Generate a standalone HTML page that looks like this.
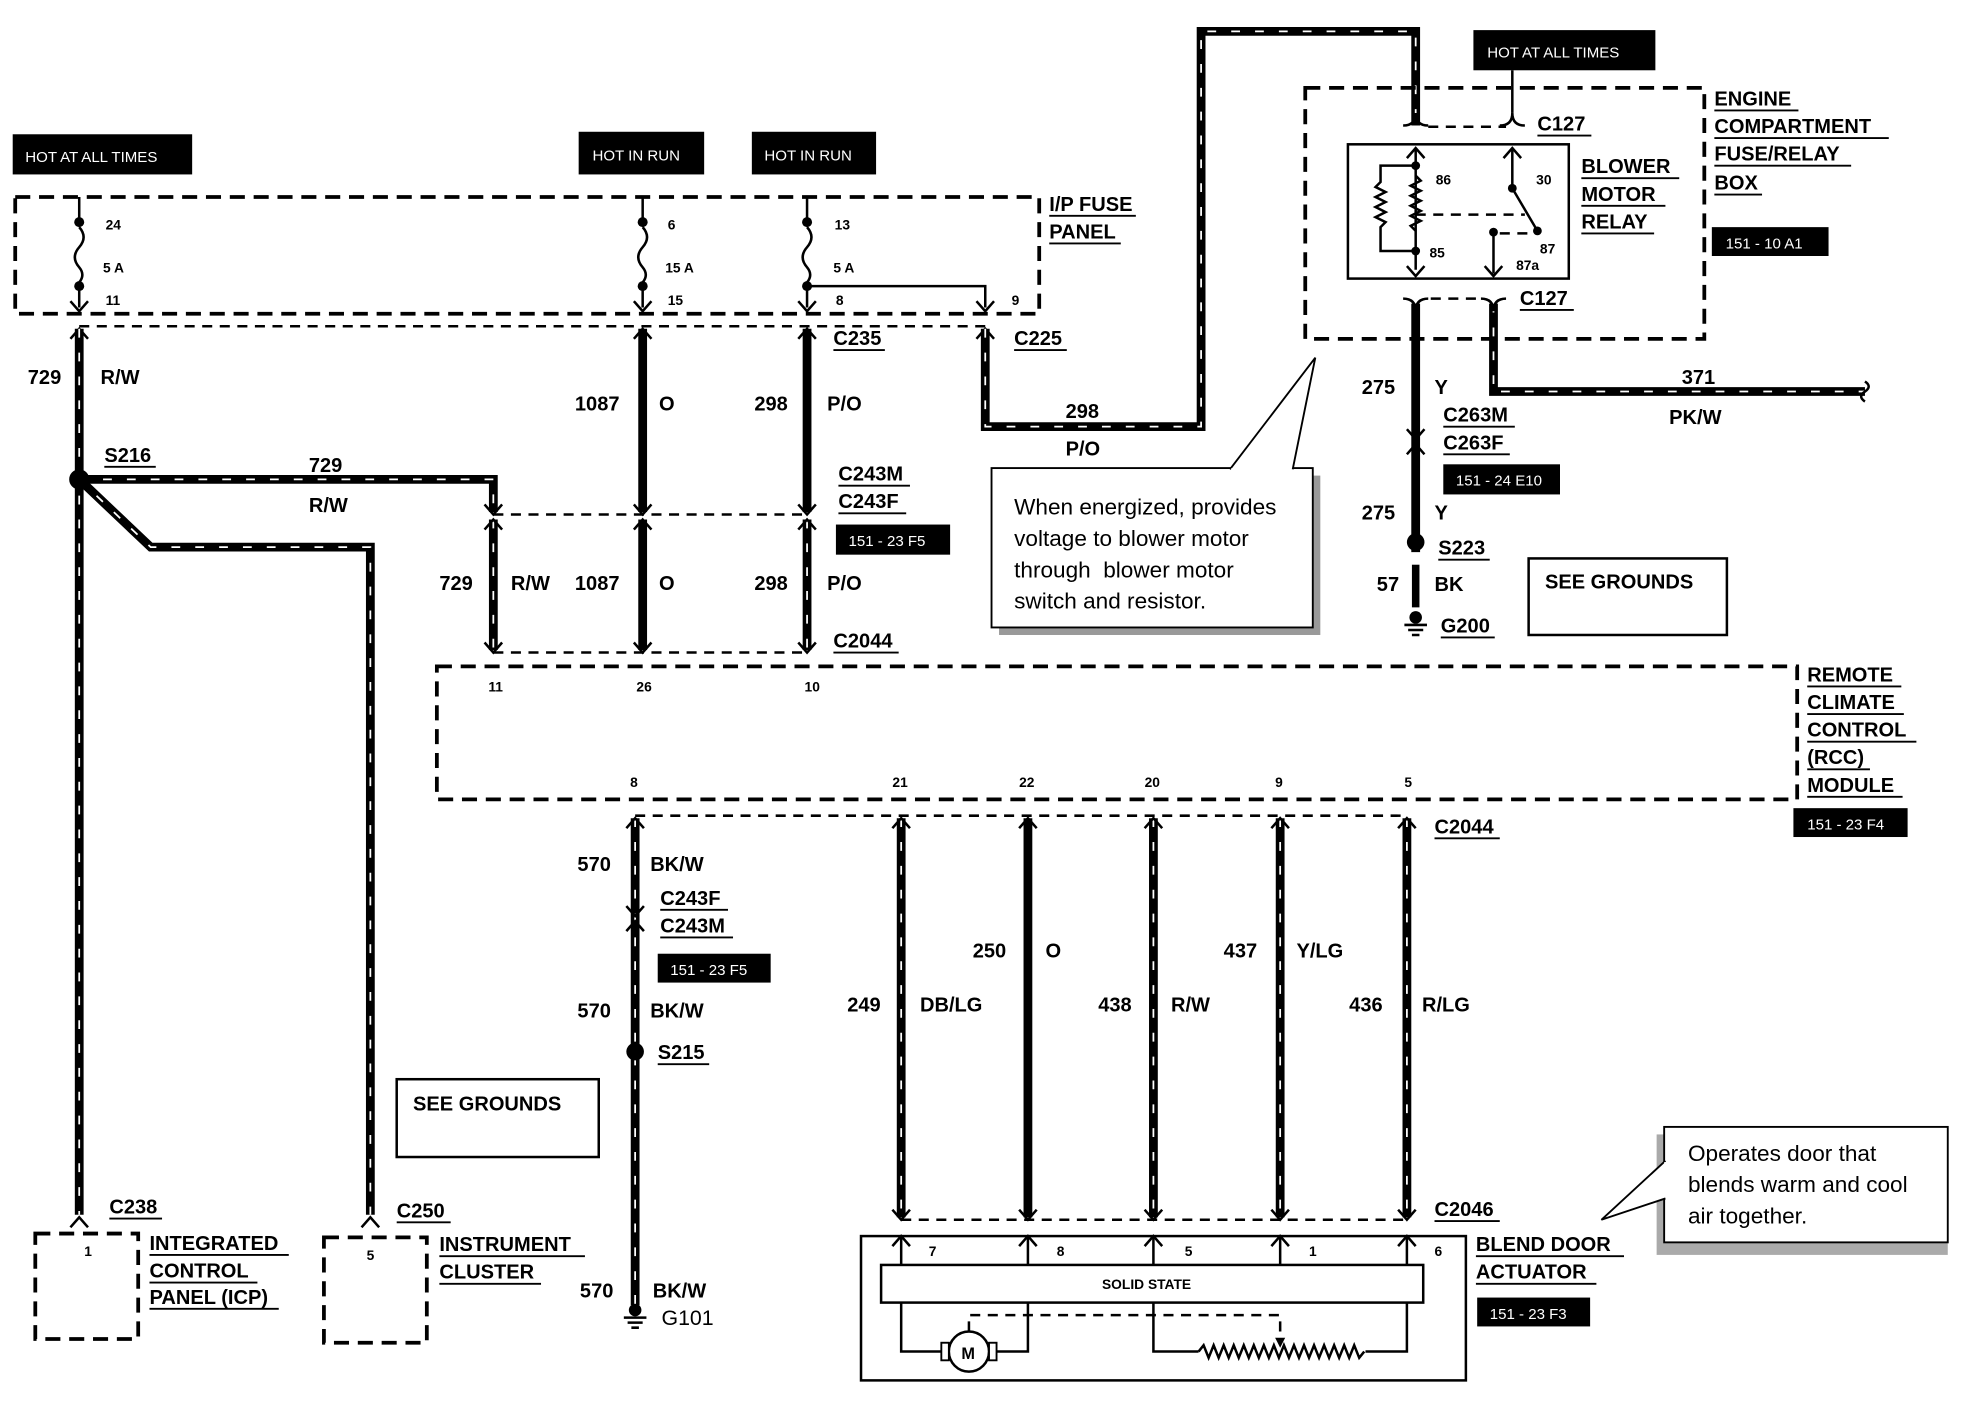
<!DOCTYPE html>
<html><head><meta charset="utf-8"><style>
html,body{margin:0;padding:0;background:#fff}
svg{display:block}
text{font-family:"Liberation Sans",Arial,sans-serif;font-weight:bold;fill:#000}
.l{font-size:16px}
.s{font-size:11px}
.b{font-size:12px;fill:#fff;font-weight:normal}
.n{font-size:18px;font-weight:normal}
.w{fill:none;stroke:#000;stroke-width:7}
.wd{fill:none;stroke:#fff;stroke-width:1.4;stroke-dasharray:7 12}
.d{fill:none;stroke:#000;stroke-width:3;stroke-dasharray:12 7}
.t{fill:none;stroke:#000;stroke-width:2;stroke-dasharray:8 6}
.k{fill:none;stroke:#000;stroke-width:2}
.u{stroke:#000;stroke-width:1.5}
.wf{fill:#fff;stroke:#000;stroke-width:1.5}
</style></head><body>
<svg width="1968" height="1408" viewBox="0 0 1568 1122" xmlns="http://www.w3.org/2000/svg">
<defs>
<g id="ad"><path d="M-7,-8 L0,0 L7,-8" class="k" stroke-width="3"/></g>
<g id="au"><path d="M-7,8 L0,0 L7,8" class="k" stroke-width="3"/></g>
<path id="w1" d="M63,262 V968"/>
<path id="w2" d="M63,382 H393 V408"/>
<path id="w3" d="M63,382 L120,436 H295 V968"/>
<path id="w4" d="M512,262 V408"/>
<path id="w5" d="M643,262 V408"/>
<path id="w6" d="M785,262 V340 H957 V25 H1128 V100"/>
<path id="w7" d="M393,414 V518"/>
<path id="w8" d="M512,414 V518"/>
<path id="w9" d="M643,414 V518"/>
<path id="w10" d="M506,652 V1040"/>
<path id="w11" d="M718,652 V970"/>
<path id="w12" d="M819,652 V970"/>
<path id="w13" d="M919,652 V970"/>
<path id="w14" d="M1020,652 V970"/>
<path id="w15" d="M1121,652 V970"/>
<path id="w16" d="M1128,242 V440"/>
<path id="w17" d="M1190,242 V312 H1486"/>
</defs>

<!-- black label boxes -->
<rect x="10" y="107" width="143" height="32" fill="#000"/><text x="20" y="129" class="b">HOT AT ALL TIMES</text>
<rect x="461" y="105" width="100" height="34" fill="#000"/><text x="472" y="128" class="b">HOT IN RUN</text>
<rect x="599" y="105" width="99" height="34" fill="#000"/><text x="609" y="128" class="b">HOT IN RUN</text>
<rect x="1174" y="24" width="145" height="32" fill="#000"/><text x="1185" y="46" class="b">HOT AT ALL TIMES</text>

<!-- I/P fuse panel -->
<rect x="12" y="157" width="816" height="93" class="d"/>
<text x="836" y="168" class="l">I/P FUSE</text><line x1="836" y1="172" x2="905" y2="172" class="u"/>
<text x="836" y="190" class="l">PANEL</text><line x1="836" y1="194" x2="893" y2="194" class="u"/>
<path d="M63,157 V175 M63,230 V245" class="k" stroke-width="2.5"/><circle cx="63" cy="177" r="4"/><circle cx="63" cy="228" r="4"/><path d="M63,181 q7,8 0,16 q-7,8 0,16 q5,6 0,12" class="k" stroke-width="2.5"/>
<path d="M512,157 V175 M512,230 V245" class="k" stroke-width="2.5"/><circle cx="512" cy="177" r="4"/><circle cx="512" cy="228" r="4"/><path d="M512,181 q7,8 0,16 q-7,8 0,16 q5,6 0,12" class="k" stroke-width="2.5"/>
<path d="M643,157 V175 M643,230 V245" class="k" stroke-width="2.5"/><circle cx="643" cy="177" r="4"/><circle cx="643" cy="228" r="4"/><path d="M643,181 q7,8 0,16 q-7,8 0,16 q5,6 0,12" class="k" stroke-width="2.5"/>
<use href="#ad" x="63" y="248"/><use href="#ad" x="512" y="248"/><use href="#ad" x="643" y="248"/>
<path d="M643,228 H785 V245" class="k"/><use href="#ad" x="785" y="248"/>
<text x="84" y="183" class="s">24</text><text x="82" y="217" class="s">5 A</text><text x="84" y="243" class="s">11</text>
<text x="532" y="183" class="s">6</text><text x="530" y="217" class="s">15 A</text><text x="532" y="243" class="s">15</text>
<text x="665" y="183" class="s">13</text><text x="664" y="217" class="s">5 A</text><text x="666" y="243" class="s">8</text>
<text x="806" y="243" class="s">9</text>
<line x1="63" y1="260" x2="785" y2="260" class="t"/>
<use href="#au" x="63" y="262"/><use href="#au" x="512" y="262"/><use href="#au" x="643" y="262"/><use href="#au" x="785" y="262"/>

<!-- wires -->
<g class="w"><use href="#w1"/><use href="#w2"/><use href="#w3"/><use href="#w4"/><use href="#w5"/><use href="#w6"/><use href="#w7"/><use href="#w8"/><use href="#w9"/><use href="#w10"/><use href="#w11"/><use href="#w12"/><use href="#w13"/><use href="#w14"/><use href="#w15"/><use href="#w16"/><use href="#w17"/></g>
<g class="wd"><use href="#w1"/><use href="#w2"/><use href="#w3"/><use href="#w6"/><use href="#w7"/><use href="#w9"/><use href="#w10"/><use href="#w11"/><use href="#w13"/><use href="#w14"/><use href="#w15"/><use href="#w17"/></g>
<path d="M1486,304 q6,4 0,8 q-6,4 0,8" class="k" stroke-width="2.5"/>
<circle cx="63" cy="382" r="8"/>

<!-- wire labels -->
<text x="22" y="306" class="l">729</text><text x="80" y="306" class="l">R/W</text>
<text x="83" y="368" class="l">S216</text><line x1="83" y1="372" x2="124" y2="372" class="u"/>
<text x="246" y="376" class="l">729</text><text x="246" y="408" class="l">R/W</text>
<text x="458" y="327" class="l">1087</text><text x="525" y="327" class="l">O</text>
<text x="601" y="327" class="l">298</text><text x="659" y="327" class="l">P/O</text>
<text x="664" y="275" class="l">C235</text><line x1="664" y1="279" x2="705" y2="279" class="u"/>
<text x="808" y="275" class="l">C225</text><line x1="808" y1="279" x2="850" y2="279" class="u"/>
<text x="849" y="333" class="l">298</text><text x="849" y="363" class="l">P/O</text>

<!-- C243 connector -->
<line x1="393" y1="410" x2="643" y2="410" class="t"/>
<use href="#ad" x="393" y="410"/><use href="#ad" x="512" y="410"/><use href="#ad" x="643" y="410"/>
<use href="#au" x="393" y="414"/><use href="#au" x="512" y="414"/><use href="#au" x="643" y="414"/>
<text x="668" y="383" class="l">C243M</text><line x1="668" y1="387" x2="725" y2="387" class="u"/>
<text x="668" y="405" class="l">C243F</text><line x1="668" y1="409" x2="722" y2="409" class="u"/>
<rect x="666" y="418" width="91" height="24" fill="#000"/><text x="676" y="435" class="b">151 - 23 F5</text>
<text x="350" y="470" class="l">729</text><text x="407" y="470" class="l">R/W</text>
<text x="458" y="470" class="l">1087</text><text x="525" y="470" class="l">O</text>
<text x="601" y="470" class="l">298</text><text x="659" y="470" class="l">P/O</text>
<line x1="393" y1="520" x2="643" y2="520" class="t"/>
<use href="#ad" x="393" y="520"/><use href="#ad" x="512" y="520"/><use href="#ad" x="643" y="520"/>
<text x="664" y="516" class="l">C2044</text><line x1="664" y1="520" x2="716" y2="520" class="u"/>

<!-- RCC module -->
<rect x="348" y="531" width="1084" height="106" class="d"/>
<text x="389" y="551" class="s">11</text><text x="507" y="551" class="s">26</text><text x="641" y="551" class="s">10</text>
<text x="502" y="627" class="s">8</text><text x="711" y="627" class="s">21</text><text x="812" y="627" class="s">22</text><text x="912" y="627" class="s">20</text><text x="1016" y="627" class="s">9</text><text x="1119" y="627" class="s">5</text>
<text x="1440" y="543" class="l">REMOTE</text><line x1="1440" y1="547" x2="1515" y2="547" class="u"/>
<text x="1440" y="565" class="l">CLIMATE</text><line x1="1440" y1="569" x2="1517" y2="569" class="u"/>
<text x="1440" y="587" class="l">CONTROL</text><line x1="1440" y1="591" x2="1527" y2="591" class="u"/>
<text x="1440" y="609" class="l">(RCC)</text><line x1="1440" y1="613" x2="1490" y2="613" class="u"/>
<text x="1440" y="631" class="l">MODULE</text><line x1="1440" y1="635" x2="1516" y2="635" class="u"/>
<rect x="1429" y="644" width="91" height="23" fill="#000"/><text x="1440" y="661" class="b">151 - 23 F4</text>

<line x1="506" y1="650" x2="1121" y2="650" class="t"/>
<use href="#au" x="506" y="652"/><use href="#au" x="718" y="652"/><use href="#au" x="819" y="652"/><use href="#au" x="919" y="652"/><use href="#au" x="1020" y="652"/><use href="#au" x="1121" y="652"/>
<text x="1143" y="664" class="l">C2044</text><line x1="1143" y1="668" x2="1195" y2="668" class="u"/>

<!-- 570 wire -->
<text x="460" y="694" class="l">570</text><text x="518" y="694" class="l">BK/W</text>
<use href="#ad" x="506" y="730"/><use href="#au" x="506" y="734"/>
<text x="526" y="721" class="l">C243F</text><line x1="526" y1="725" x2="580" y2="725" class="u"/>
<text x="526" y="743" class="l">C243M</text><line x1="526" y1="747" x2="584" y2="747" class="u"/>
<rect x="524" y="760" width="90" height="23" fill="#000"/><text x="534" y="777" class="b">151 - 23 F5</text>
<text x="460" y="811" class="l">570</text><text x="518" y="811" class="l">BK/W</text>
<circle cx="506" cy="838" r="7"/>
<text x="524" y="844" class="l">S215</text><line x1="524" y1="848" x2="565" y2="848" class="u"/>
<text x="462" y="1034" class="l">570</text><text x="520" y="1034" class="l">BK/W</text>
<circle cx="506" cy="1044" r="5"/><path d="M497,1050 H515 M500,1054 H512 M503,1058 H509" class="k"/>
<text x="527" y="1056" class="n" style="font-size:17px">G101</text>

<!-- 5 wires labels -->
<text x="675" y="806" class="l">249</text><text x="733" y="806" class="l">DB/LG</text>
<text x="775" y="763" class="l">250</text><text x="833" y="763" class="l">O</text>
<text x="875" y="806" class="l">438</text><text x="933" y="806" class="l">R/W</text>
<text x="975" y="763" class="l">437</text><text x="1033" y="763" class="l">Y/LG</text>
<text x="1075" y="806" class="l">436</text><text x="1133" y="806" class="l">R/LG</text>
<line x1="718" y1="972" x2="1121" y2="972" class="t"/>
<use href="#ad" x="718" y="972"/><use href="#ad" x="819" y="972"/><use href="#ad" x="919" y="972"/><use href="#ad" x="1020" y="972"/><use href="#ad" x="1121" y="972"/>
<text x="1143" y="969" class="l">C2046</text><line x1="1143" y1="973" x2="1195" y2="973" class="u"/>

<!-- blend door actuator -->
<rect x="686" y="985" width="482" height="115" class="k" stroke-width="3"/>
<g class="k"><path d="M718,985 V1008 M819,985 V1008 M919,985 V1008 M1020,985 V1008 M1121,985 V1008"/></g>
<use href="#au" x="718" y="985"/><use href="#au" x="819" y="985"/><use href="#au" x="919" y="985"/><use href="#au" x="1020" y="985"/><use href="#au" x="1121" y="985"/>
<text x="740" y="1001" class="s">7</text><text x="842" y="1001" class="s">8</text><text x="944" y="1001" class="s">5</text><text x="1043" y="1001" class="s">1</text><text x="1143" y="1001" class="s">6</text>
<rect x="702" y="1008" width="432" height="30" class="k" stroke-width="3"/>
<text x="878" y="1027" class="s">SOLID STATE</text>
<path d="M718,1038 V1077 H752 M792,1077 H819 V1038 M919,1038 V1077 H955 M1088,1077 H1121 V1038" class="k"/>
<path d="M955,1077 l4,-5 4,10 4,-10 4,10 4,-10 4,10 4,-10 4,10 4,-10 4,10 4,-10 4,10 4,-10 4,10 4,-10 4,10 4,-10 4,10 4,-10 4,10 4,-10 4,10 4,-10 4,10 4,-10 4,10 4,-10 4,10 4,-10 4,10 4,-10 4,10 4,-5" class="k" stroke-width="1.5"/>
<path d="M772,1061 V1048 H1020 V1070" class="t"/><path d="M1016,1066 L1020,1074 L1024,1066 Z"/>
<circle cx="772" cy="1077" r="16" class="wf" style="stroke-width:2"/><rect x="750" y="1070" width="6" height="14" class="wf"/><rect x="788" y="1070" width="6" height="14" class="wf"/>
<text x="766" y="1083" class="s" style="font-size:13px">M</text>
<text x="1176" y="997" class="l">BLEND DOOR</text><line x1="1176" y1="1001" x2="1294" y2="1001" class="u"/>
<text x="1176" y="1019" class="l">ACTUATOR</text><line x1="1176" y1="1023" x2="1272" y2="1023" class="u"/>
<rect x="1177" y="1034" width="90" height="23" fill="#000"/><text x="1187" y="1051" class="b">151 - 23 F3</text>

<!-- ICP and IC -->
<use href="#au" x="63" y="970"/><use href="#au" x="295" y="970"/>
<text x="87" y="967" class="l">C238</text><line x1="87" y1="971" x2="129" y2="971" class="u"/>
<text x="316" y="970" class="l">C250</text><line x1="316" y1="974" x2="359" y2="974" class="u"/>
<rect x="28" y="983" width="82" height="84" class="d"/><text x="67" y="1001" class="s">1</text>
<rect x="258" y="986" width="82" height="84" class="d"/><text x="292" y="1004" class="s">5</text>
<text x="119" y="996" class="l">INTEGRATED</text><line x1="119" y1="1000" x2="230" y2="1000" class="u"/>
<text x="119" y="1018" class="l">CONTROL</text><line x1="119" y1="1022" x2="205" y2="1022" class="u"/>
<text x="119" y="1039" class="l">PANEL (ICP)</text><line x1="119" y1="1043" x2="222" y2="1043" class="u"/>
<text x="350" y="997" class="l">INSTRUMENT</text><line x1="350" y1="1001" x2="466" y2="1001" class="u"/>
<text x="350" y="1019" class="l">CLUSTER</text><line x1="350" y1="1023" x2="431" y2="1023" class="u"/>
<rect x="316" y="860" width="161" height="62" class="k" stroke-width="1.5"/><text x="329" y="885" class="l">SEE GROUNDS</text>
<rect x="1218" y="445" width="158" height="61" class="k" stroke-width="1.5"/><text x="1231" y="469" class="l">SEE GROUNDS</text>

<!-- engine compartment box -->
<rect x="1040" y="70" width="318" height="200" class="d"/>
<text x="1366" y="84" class="l">ENGINE</text><line x1="1366" y1="88" x2="1433" y2="88" class="u"/>
<text x="1366" y="106" class="l">COMPARTMENT</text><line x1="1366" y1="110" x2="1505" y2="110" class="u"/>
<text x="1366" y="128" class="l">FUSE/RELAY</text><line x1="1366" y1="132" x2="1475" y2="132" class="u"/>
<text x="1366" y="151" class="l">BOX</text><line x1="1366" y1="155" x2="1404" y2="155" class="u"/>
<rect x="1364" y="181" width="93" height="23" fill="#000"/><text x="1375" y="198" class="b">151 - 10 A1</text>
<path d="M1118,100 q10,0 10,-10 q0,10 10,10 M1195,100 q10,0 10,-10 q0,10 10,10" class="k" stroke-width="2.5"/>
<path d="M1138,101 H1200" class="t"/><path d="M1205,90 V56" class="k"/>
<text x="1225" y="104" class="l">C127</text><line x1="1225" y1="108" x2="1268" y2="108" class="u"/>
<rect x="1074" y="115" width="176" height="107" class="k" stroke-width="4"/>
<path d="M1128,118 V215 M1205,118 V150 L1225,184 M1190,185 V218" class="k"/>
<use href="#au" x="1128" y="118"/><use href="#au" x="1205" y="118"/><use href="#ad" x="1128" y="220"/><use href="#ad" x="1190" y="220"/>
<circle cx="1128" cy="132" r="3.5"/><circle cx="1128" cy="200" r="3.5"/><circle cx="1205" cy="150" r="3.5"/><circle cx="1225" cy="184" r="3.5"/><circle cx="1190" cy="185" r="3.5"/>
<path d="M1128,132 H1100 V145 l-4,4 8,4 -8,4 8,4 -8,4 8,4 -8,4 8,4 -4,4 V200 H1128" class="k" stroke-width="1.5"/>
<path d="M1128,140 l4,4 -8,4 8,4 -8,4 8,4 -8,4 8,4 -8,4 8,4 -8,4 4,4" class="k" stroke-width="1.5"/>
<path d="M1128,171 H1215 M1195,186 H1220" class="t"/>
<text x="1144" y="147" class="s">86</text><text x="1224" y="147" class="s">30</text><text x="1139" y="205" class="s">85</text><text x="1227" y="202" class="s">87</text><text x="1208" y="215" class="s">87a</text>
<text x="1260" y="138" class="l">BLOWER</text><line x1="1260" y1="142" x2="1338" y2="142" class="u"/>
<text x="1260" y="160" class="l">MOTOR</text><line x1="1260" y1="164" x2="1327" y2="164" class="u"/>
<text x="1260" y="182" class="l">RELAY</text><line x1="1260" y1="186" x2="1318" y2="186" class="u"/>
<path d="M1118,238 q10,0 10,10 q0,-10 10,-10 M1180,238 q10,0 10,10 q0,-10 10,-10" class="k" stroke-width="2.5"/>
<path d="M1140,238 H1178" class="t"/>
<text x="1211" y="243" class="l">C127</text><line x1="1211" y1="247" x2="1254" y2="247" class="u"/>

<text x="1085" y="314" class="l">275</text><text x="1143" y="314" class="l">Y</text>
<text x="1340" y="306" class="l">371</text><text x="1330" y="338" class="l">PK/W</text>
<use href="#ad" x="1128" y="350"/><use href="#au" x="1128" y="354"/>
<text x="1150" y="336" class="l">C263M</text><line x1="1150" y1="340" x2="1207" y2="340" class="u"/>
<text x="1150" y="358" class="l">C263F</text><line x1="1150" y1="362" x2="1203" y2="362" class="u"/>
<rect x="1150" y="370" width="93" height="24" fill="#000"/><text x="1160" y="387" class="b">151 - 24 E10</text>
<text x="1085" y="414" class="l">275</text><text x="1143" y="414" class="l">Y</text>
<circle cx="1128" cy="432" r="7"/>
<text x="1146" y="442" class="l">S223</text><line x1="1146" y1="446" x2="1187" y2="446" class="u"/>
<text x="1097" y="471" class="l">57</text><text x="1143" y="471" class="l">BK</text>
<rect x="1125" y="450" width="6" height="34" fill="#000"/>
<circle cx="1128" cy="492" r="5"/><path d="M1119,498 H1137 M1122,502 H1134 M1125,506 H1131" class="k"/>
<text x="1148" y="504" class="l">G200</text><line x1="1148" y1="508" x2="1191" y2="508" class="u"/>

<!-- callouts -->
<rect x="796" y="379" width="256" height="127" fill="#999"/>
<rect x="790" y="373" width="256" height="127" class="wf"/>
<path d="M980,374 L1048,285 L1030,374" class="wf"/>
<line x1="981" y1="374" x2="1029" y2="374" stroke="#fff" stroke-width="2"/>
<text x="808" y="410" class="n">When energized, provides</text>
<text x="808" y="435" class="n" xml:space="preserve">voltage to blower motor</text>
<text x="808" y="460" class="n" xml:space="preserve">through  blower motor</text>
<text x="808" y="485" class="n">switch and resistor.</text>
<rect x="1320" y="904" width="232" height="96" fill="#aaa"/>
<rect x="1326" y="898" width="226" height="92" class="wf"/>
<path d="M1327,925 L1276,972 L1327,955" class="wf"/>
<line x1="1327" y1="926" x2="1327" y2="954" stroke="#fff" stroke-width="2"/>
<text x="1345" y="925" class="n">Operates door that</text>
<text x="1345" y="950" class="n">blends warm and cool</text>
<text x="1345" y="975" class="n">air together.</text>
</svg>
</body></html>
